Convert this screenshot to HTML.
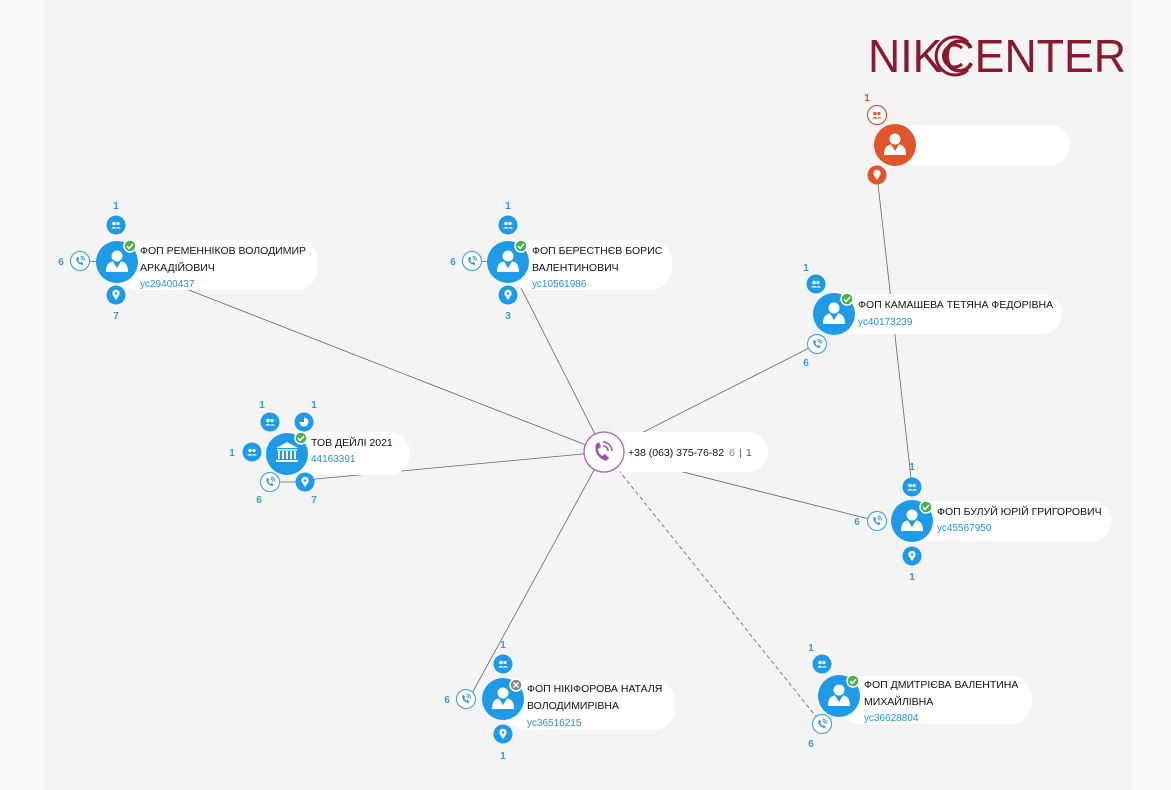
<!DOCTYPE html>
<html><head><meta charset="utf-8"><style>
body{margin:0;width:1171px;height:790px;overflow:hidden;background:#f4f4f4;font-family:"Liberation Sans",sans-serif}
svg{position:absolute;left:0;top:0}
text{font-family:"Liberation Sans","DejaVu Sans",sans-serif}
.n{font-size:10.5px;fill:#111}
.c{font-size:10px;fill:#2a8fd6}
.k{font-size:10px;fill:#3a9ad9;font-weight:bold;text-anchor:middle}
.p{fill:#fff}
</style></head><body>
<svg width="1171" height="790" viewBox="0 0 1171 790">
<defs>
<g id="person"><circle cx="0" cy="-6" r="5.5" fill="#fff"/><path d="M-11 10 Q-11 0 -4 -0.5 L0 6 L4 -0.5 Q11 0 11 10 Z" fill="#fff"/><path d="M-1 1 L0 7 L1 1Z" fill="#1e9be6"/></g>
<g id="check"><circle r="6" fill="#4caf50" stroke="#fff" stroke-width="1.5"/><path d="M-3 0 L-1 2.5 L3 -2" stroke="#fff" stroke-width="1.5" fill="none"/></g>
<g id="ppl"><circle r="9.5" fill="#1e9be6"/><circle cx="-2" cy="-1.5" r="1.8" fill="#fff"/><circle cx="2" cy="-1.5" r="1.6" fill="#fff"/><path d="M-5 3.5 Q-2 0 1 3.5Z M0 3.5 Q2.5 0.5 5 3.5Z" fill="#fff"/></g>
<g id="loc"><circle r="9.5" fill="#1e9be6"/><path d="M0 5 L-3.2 0 A3.6 3.6 0 1 1 3.2 0 Z" fill="#fff"/><circle cy="-1.5" r="1.3" fill="#1e9be6"/></g>
<g id="ph"><circle r="9.5" fill="#fff" stroke="#4aa8e6" stroke-width="1.2"/><path d="M-3.5 -3.5 Q-4.5 2 2.5 4 L3.5 2.5 L1.5 1 L0.5 2 Q-1.5 1 -1.8 -1.2 L-0.8 -2 L-2 -4 Z" fill="#2a8fd6"/><path d="M0.5 -3 A3 3 0 0 1 3.2 -0.5 M0.5 -5 A5 5 0 0 1 5 -0.5" stroke="#2a8fd6" stroke-width="0.9" fill="none"/></g>
</defs>
<rect x="0" y="0" width="44" height="790" fill="#f9f9f9"/>
<rect x="1132" y="0" width="39" height="790" fill="#f9f9f9"/>
<!-- edges -->
<g stroke="#666" stroke-width="0.8" fill="none">
<line x1="117" y1="262" x2="604" y2="452"/>
<line x1="508" y1="262" x2="604" y2="452"/>
<line x1="817" y1="344" x2="604" y2="452"/>
<line x1="305" y1="480" x2="604" y2="452"/>
<line x1="877" y1="521" x2="604" y2="452"/>
<line x1="470" y1="697" x2="604" y2="452"/>
<line x1="822" y1="724" x2="604" y2="452" stroke-dasharray="4,3"/>
<line x1="877" y1="175" x2="912" y2="487"/>
<line x1="80" y1="261" x2="117" y2="262"/><line x1="472" y1="261" x2="508" y2="262"/>
<line x1="270" y1="482" x2="305" y2="482"/>
</g>
<!-- logo -->
<text x="868" y="72" font-size="46" fill="#8a1a2b" style="font-family:'Liberation Sans',sans-serif" textLength="258" lengthAdjust="spacingAndGlyphs">NIKCENTER</text>
<g fill="none" stroke="#8a1a2b" stroke-width="3"><path d="M968 42 A19 19 0 1 0 968 70"/><path d="M962 48 A11 11 0 1 0 962 64"/></g>
<!-- pills -->
<g fill="#fff">
<rect x="117" y="240" width="201" height="50" rx="22"/>
<rect x="508" y="240" width="164" height="50" rx="22"/>
<rect x="834" y="294" width="228" height="40" rx="20"/>
<rect x="287" y="432" width="123" height="43" rx="21"/>
<rect x="604" y="432" width="164" height="40" rx="20"/>
<rect x="912" y="501" width="200" height="40" rx="20"/>
<rect x="503" y="680" width="172" height="50" rx="22"/>
<rect x="839" y="676" width="193" height="48" rx="22"/>
<rect x="895" y="125" width="175" height="40" rx="20"/>
</g>
<!-- Ременніков -->
<use href="#ppl" x="116" y="225"/><use href="#loc" x="116" y="295"/><use href="#ph" x="80" y="261"/>
<circle cx="117" cy="262" r="21" fill="#1e9be6"/><use href="#person" x="117" y="262"/><use href="#check" x="130" y="246"/>
<text class="k" x="116" y="209">1</text><text class="k" x="61" y="265">6</text><text class="k" x="116" y="319">7</text>
<text class="n" x="140" y="254">ФОП РЕМЕННІКОВ ВОЛОДИМИР</text><text class="n" x="140" y="271">АРКАДІЙОВИЧ</text><text class="c" x="140" y="287">ус29400437</text>
<!-- Берестнєв -->
<use href="#ppl" x="508" y="225"/><use href="#loc" x="508" y="295"/><use href="#ph" x="472" y="261"/>
<circle cx="508" cy="262" r="21" fill="#1e9be6"/><use href="#person" x="508" y="262"/><use href="#check" x="521" y="246"/>
<text class="k" x="508" y="209">1</text><text class="k" x="453" y="265">6</text><text class="k" x="508" y="319">3</text>
<text class="n" x="532" y="254">ФОП БЕРЕСТНЄВ БОРИС</text><text class="n" x="532" y="271">ВАЛЕНТИНОВИЧ</text><text class="c" x="532" y="287">ус10561986</text>
<!-- Камашева -->
<use href="#ppl" x="816" y="284"/><use href="#ph" x="817" y="344"/>
<circle cx="834" cy="314" r="21" fill="#1e9be6"/><use href="#person" x="834" y="314"/><use href="#check" x="847" y="299"/>
<text class="k" x="806" y="271">1</text><text class="k" x="806" y="366">6</text>
<text class="n" x="858" y="308">ФОП КАМАШЕВА ТЕТЯНА ФЕДОРІВНА</text><text class="c" x="858" y="325">ус40173239</text>
<!-- ТОВ -->
<use href="#ppl" x="270" y="422"/><use href="#ppl" x="252" y="452"/><use href="#ph" x="270" y="482"/><use href="#loc" x="305" y="482"/>
<circle cx="304" cy="422" r="9.5" fill="#1e9be6"/><path d="M304 422 L304 417.5 A4.5 4.5 0 1 1 299.5 422 Z" fill="#fff"/>
<circle cx="287" cy="454" r="21" fill="#1e9be6"/>
<g fill="#fff"><path d="M276 448 L287 442 L298 448 Z"/><rect x="277" y="449" width="20" height="1.5"/><rect x="278" y="451" width="2" height="8"/><rect x="282" y="451" width="2" height="8"/><rect x="286" y="451" width="2" height="8"/><rect x="290" y="451" width="2" height="8"/><rect x="294" y="451" width="2" height="8"/><rect x="276" y="460" width="22" height="2"/></g>
<use href="#check" x="301" y="438"/>
<text class="k" x="262" y="408">1</text><text class="k" x="314" y="408">1</text><text class="k" x="232" y="456">1</text><text class="k" x="259" y="503">6</text><text class="k" x="314" y="503">7</text>
<text class="n" x="311" y="446">ТОВ ДЕЙЛІ 2021</text><text class="c" x="311" y="462">44163391</text>
<!-- center -->
<circle cx="604" cy="452" r="20" fill="#fff" stroke="#b05cc0" stroke-width="1.3"/>
<path d="M596 444 Q593 456 606 461 L609 458 L605 454 L602 456 Q598 453 598 449 L601 447 L599 442 Z" fill="#a550b8"/>
<path d="M603 446 A5 5 0 0 1 608 451 M603 442 A9 9 0 0 1 612 451" stroke="#a550b8" stroke-width="1.5" fill="none"/>
<text class="n" x="628" y="456">+38 (063) 375-76-82</text><text x="729" y="456" font-size="10.5" fill="#a06aa8">6</text><text x="739" y="456" font-size="10.5" fill="#555">|</text><text x="746" y="456" font-size="10.5" fill="#555">1</text>
<!-- Булуй -->
<use href="#ppl" x="912" y="487"/><use href="#loc" x="912" y="556"/><use href="#ph" x="877" y="521"/>
<circle cx="912" cy="521" r="21" fill="#1e9be6"/><use href="#person" x="912" y="521"/><use href="#check" x="926" y="507"/>
<text class="k" x="912" y="470">1</text><text class="k" x="857" y="525">6</text><text class="k" x="912" y="580">1</text>
<text class="n" x="937" y="515">ФОП БУЛУЙ ЮРІЙ ГРИГОРОВИЧ</text><text class="c" x="937" y="531">ус45567950</text>
<!-- Нікіфорова -->
<use href="#ppl" x="503" y="664"/><use href="#loc" x="503" y="734"/><use href="#ph" x="466" y="699"/>
<circle cx="503" cy="699" r="21" fill="#1e9be6"/><use href="#person" x="503" y="699"/>
<circle cx="516" cy="685" r="6" fill="#888" stroke="#fff" stroke-width="1.5"/><path d="M513.5 682.5 L518.5 687.5 M518.5 682.5 L513.5 687.5" stroke="#fff" stroke-width="1.3"/>
<text class="k" x="503" y="648">1</text><text class="k" x="447" y="703">6</text><text class="k" x="503" y="759">1</text>
<text class="n" x="527" y="692">ФОП НІКІФОРОВА НАТАЛЯ</text><text class="n" x="527" y="709">ВОЛОДИМИРІВНА</text><text class="c" x="527" y="726">ус36516215</text>
<!-- Дмитрієва -->
<use href="#ppl" x="822" y="664"/><use href="#ph" x="822" y="724"/>
<circle cx="839" cy="696" r="21" fill="#1e9be6"/><use href="#person" x="839" y="696"/><use href="#check" x="853" y="681"/>
<text class="k" x="811" y="651">1</text><text class="k" x="811" y="747">6</text>
<text class="n" x="864" y="688">ФОП ДМИТРІЄВА ВАЛЕНТИНА</text><text class="n" x="864" y="705">МИХАЙЛІВНА</text><text class="c" x="864" y="721">ус36628804</text>
<!-- orange -->
<circle cx="877" cy="115" r="9.5" fill="#fff" stroke="#e0562a" stroke-width="1.2"/><circle cx="875" cy="113.5" r="1.8" fill="#e0562a"/><circle cx="879" cy="113.5" r="1.6" fill="#e0562a"/><path d="M872 118.5 Q875 115 878 118.5Z M877 118.5 Q879.5 115.5 882 118.5Z" fill="#e0562a"/>
<circle cx="877" cy="175" r="9.5" fill="#e0562a"/><path d="M877 180 L873.8 175 A3.6 3.6 0 1 1 880.2 175 Z" fill="#fff"/>
<circle cx="895" cy="145" r="21" fill="#e0562a"/>
<g transform="translate(895 145)"><circle cx="0" cy="-6" r="5.5" fill="#fff"/><path d="M-11 10 Q-11 0 -4 -0.5 L0 6 L4 -0.5 Q11 0 11 10 Z" fill="#fff"/></g>
<text x="867" y="101" font-size="10" fill="#e0562a" font-weight="bold" text-anchor="middle">1</text>
</svg>
</body></html>
